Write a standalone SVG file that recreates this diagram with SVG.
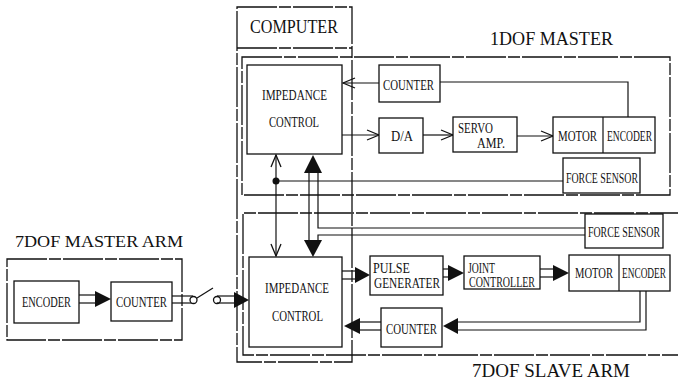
<svg xmlns="http://www.w3.org/2000/svg" width="678" height="381" viewBox="0 0 678 381">
<defs>
<style>
.bg{fill:#fff}
.box{fill:#fff;stroke:#111;stroke-width:1.3}
.enc{fill:none;stroke:#111;stroke-width:1.3;stroke-dasharray:40 2 12 2}
.ln{fill:none;stroke:#111;stroke-width:1.2}
.fa{fill:#111;stroke:none}
.t{font-family:"Liberation Serif","DejaVu Serif",serif;font-size:14px;fill:#111}
.h{font-family:"Liberation Serif","DejaVu Serif",serif;fill:#111}
</style>
<marker id="oa" markerUnits="userSpaceOnUse" markerWidth="14" markerHeight="12" viewBox="0 0 14 12" refX="13" refY="6" orient="auto">
<path d="M1 1 L13 6 L1 11" fill="none" stroke="#111" stroke-width="1.3"/>
</marker>
<marker id="oas" markerUnits="userSpaceOnUse" markerWidth="14" markerHeight="12" viewBox="0 0 14 12" refX="1" refY="6" orient="auto">
<path d="M13 1 L1 6 L13 11" fill="none" stroke="#111" stroke-width="1.3"/>
</marker>
</defs>
<rect class="bg" x="0" y="0" width="678" height="381"/>

<g id="computer">
<rect class="enc" x="237" y="7" width="115" height="355"/>
<line class="enc" x1="237" y1="48" x2="352" y2="48"/>
<text class="h" x="250" y="33" font-size="19" textLength="88" lengthAdjust="spacingAndGlyphs">COMPUTER</text>
</g>

<g id="master1dof">
<rect class="enc" x="242" y="57" width="428" height="138"/>
<text class="h" x="490" y="45" font-size="18" textLength="123" lengthAdjust="spacingAndGlyphs">1DOF MASTER</text>
</g>

<g id="slave7dof">
<path class="enc" d="M690 213 H243 V355 H690"/>
<text class="h" x="472" y="377" font-size="18" textLength="158" lengthAdjust="spacingAndGlyphs">7DOF SLAVE ARM</text>
</g>

<g id="master7dof">
<rect class="enc" x="7" y="259" width="175" height="81"/>
<text class="h" x="15" y="247" font-size="16" textLength="168" lengthAdjust="spacingAndGlyphs">7DOF MASTER ARM</text>
</g>

<g id="connectors">
<line class="ln" x1="379" y1="83" x2="343" y2="83" marker-end="url(#oa)"/>
<line class="ln" x1="342" y1="135" x2="379" y2="135" marker-end="url(#oa)"/>
<line class="ln" x1="423" y1="135" x2="453" y2="135" marker-end="url(#oa)"/>
<line class="ln" x1="517" y1="136" x2="553" y2="136" marker-end="url(#oa)"/>
<polyline class="ln" points="628,117 628,82 440,82"/>
<line class="ln" x1="563" y1="181" x2="276" y2="181"/>
<circle cx="276" cy="181" r="3.5" fill="#111"/>
<line class="ln" x1="276" y1="155" x2="276" y2="256" marker-start="url(#oas)" marker-end="url(#oa)"/>
<polyline class="ln" points="585,228 318,228 318,172"/>
<polyline class="ln" points="585,235 318,235 318,241"/>
<line class="ln" x1="309" y1="172" x2="309" y2="241"/>
<polygon class="fa" points="313,155 304,173 322,173"/>
<polygon class="fa" points="313,257 304,240 322,240"/>
<line class="ln" x1="342" y1="271" x2="356" y2="271"/>
<line class="ln" x1="342" y1="279" x2="356" y2="279"/>
<polygon class="fa" points="370,275 355,267 355,283"/>
<line class="ln" x1="443" y1="269" x2="449" y2="269"/>
<line class="ln" x1="443" y1="277" x2="449" y2="277"/>
<polygon class="fa" points="464,273 448,265 448,281"/>
<line class="ln" x1="540" y1="269" x2="554" y2="269"/>
<line class="ln" x1="540" y1="277" x2="554" y2="277"/>
<polygon class="fa" points="569,273 553,265 553,281"/>
<polyline class="ln" points="646,291 646,330 457,330"/>
<polyline class="ln" points="640,291 640,322 457,322"/>
<polygon class="fa" points="443,326 458,318 458,334"/>
<line class="ln" x1="381" y1="322" x2="359" y2="322"/>
<line class="ln" x1="381" y1="330" x2="359" y2="330"/>
<polygon class="fa" points="344,326 360,318 360,334"/>
<line class="ln" x1="79" y1="295" x2="96" y2="295"/>
<line class="ln" x1="79" y1="303" x2="96" y2="303"/>
<polygon class="fa" points="111,299 95,291 95,307"/>
<line class="ln" x1="172" y1="296" x2="193" y2="296"/>
<line class="ln" x1="172" y1="303" x2="193" y2="303"/>
<circle cx="193.5" cy="300" r="3.5" fill="#fff" stroke="#111" stroke-width="1.3"/>
<line class="ln" x1="197" y1="298" x2="213" y2="288"/>
<circle cx="217" cy="300" r="3.5" fill="#fff" stroke="#111" stroke-width="1.3"/>
<line class="ln" x1="217" y1="296" x2="235" y2="296"/>
<line class="ln" x1="217" y1="303" x2="235" y2="303"/>
<polygon class="fa" points="249,300 234,292 234,308"/>
</g>

<g id="impedance-top">
<rect class="box" x="247" y="65" width="95" height="89"/>
<text class="t" x="262" y="100" textLength="65" lengthAdjust="spacingAndGlyphs">IMPEDANCE</text>
<text class="t" x="269" y="127" textLength="50" lengthAdjust="spacingAndGlyphs">CONTROL</text>
</g>
<g id="counter-1dof">
<rect class="box" x="379" y="65" width="61" height="37"/>
<text class="t" x="383" y="90" textLength="51" lengthAdjust="spacingAndGlyphs">COUNTER</text>
</g>
<g id="da">
<rect class="box" x="379" y="118" width="44" height="35"/>
<text class="t" x="391" y="141" textLength="22" lengthAdjust="spacingAndGlyphs">D/A</text>
</g>
<g id="servo-amp">
<rect class="box" x="453" y="117" width="64" height="35"/>
<text class="t" x="458" y="133" textLength="35" lengthAdjust="spacingAndGlyphs">SERVO</text>
<text class="t" x="477" y="148" textLength="28" lengthAdjust="spacingAndGlyphs">AMP.</text>
</g>
<g id="motor-encoder-1dof">
<rect class="box" x="553" y="117" width="102" height="36"/>
<line class="ln" x1="603" y1="117" x2="603" y2="153"/>
<text class="t" x="558" y="141" textLength="39" lengthAdjust="spacingAndGlyphs">MOTOR</text>
<text class="t" x="607" y="141" textLength="45" lengthAdjust="spacingAndGlyphs">ENCODER</text>
</g>
<g id="force-sensor-1dof">
<rect class="box" x="563" y="158" width="77" height="35"/>
<text class="t" x="566" y="183" textLength="72" lengthAdjust="spacingAndGlyphs">FORCE SENSOR</text>
</g>

<g id="force-sensor-slave">
<rect class="box" x="585" y="214" width="78" height="34"/>
<text class="t" x="588" y="237" textLength="72" lengthAdjust="spacingAndGlyphs">FORCE SENSOR</text>
</g>
<g id="impedance-bottom">
<rect class="box" x="249" y="257" width="93" height="90"/>
<text class="t" x="265" y="293" textLength="64" lengthAdjust="spacingAndGlyphs">IMPEDANCE</text>
<text class="t" x="272" y="321" textLength="51" lengthAdjust="spacingAndGlyphs">CONTROL</text>
</g>
<g id="pulse-generater">
<rect class="box" x="370" y="256" width="73" height="39"/>
<text class="t" x="373" y="273" textLength="37" lengthAdjust="spacingAndGlyphs">PULSE</text>
<text class="t" x="374" y="288" textLength="66" lengthAdjust="spacingAndGlyphs">GENERATER</text>
</g>
<g id="joint-controller">
<rect class="box" x="464" y="256" width="76" height="33"/>
<text class="t" x="468" y="273" textLength="27" lengthAdjust="spacingAndGlyphs">JOINT</text>
<text class="t" x="469" y="287" textLength="66" lengthAdjust="spacingAndGlyphs">CONTROLLER</text>
</g>
<g id="motor-encoder-slave">
<rect class="box" x="569" y="255" width="101" height="36"/>
<line class="ln" x1="619" y1="255" x2="619" y2="291"/>
<text class="t" x="575" y="278" textLength="38" lengthAdjust="spacingAndGlyphs">MOTOR</text>
<text class="t" x="622" y="278" textLength="44" lengthAdjust="spacingAndGlyphs">ENCODER</text>
</g>
<g id="counter-slave">
<rect class="box" x="381" y="308" width="61" height="39"/>
<text class="t" x="386" y="334" textLength="51" lengthAdjust="spacingAndGlyphs">COUNTER</text>
</g>

<g id="encoder-master">
<rect class="box" x="14" y="281" width="65" height="42"/>
<text class="t" x="22" y="307" textLength="49" lengthAdjust="spacingAndGlyphs">ENCODER</text>
</g>
<g id="counter-master">
<rect class="box" x="111" y="282" width="61" height="39"/>
<text class="t" x="116" y="307" textLength="51" lengthAdjust="spacingAndGlyphs">COUNTER</text>
</g>
</svg>
